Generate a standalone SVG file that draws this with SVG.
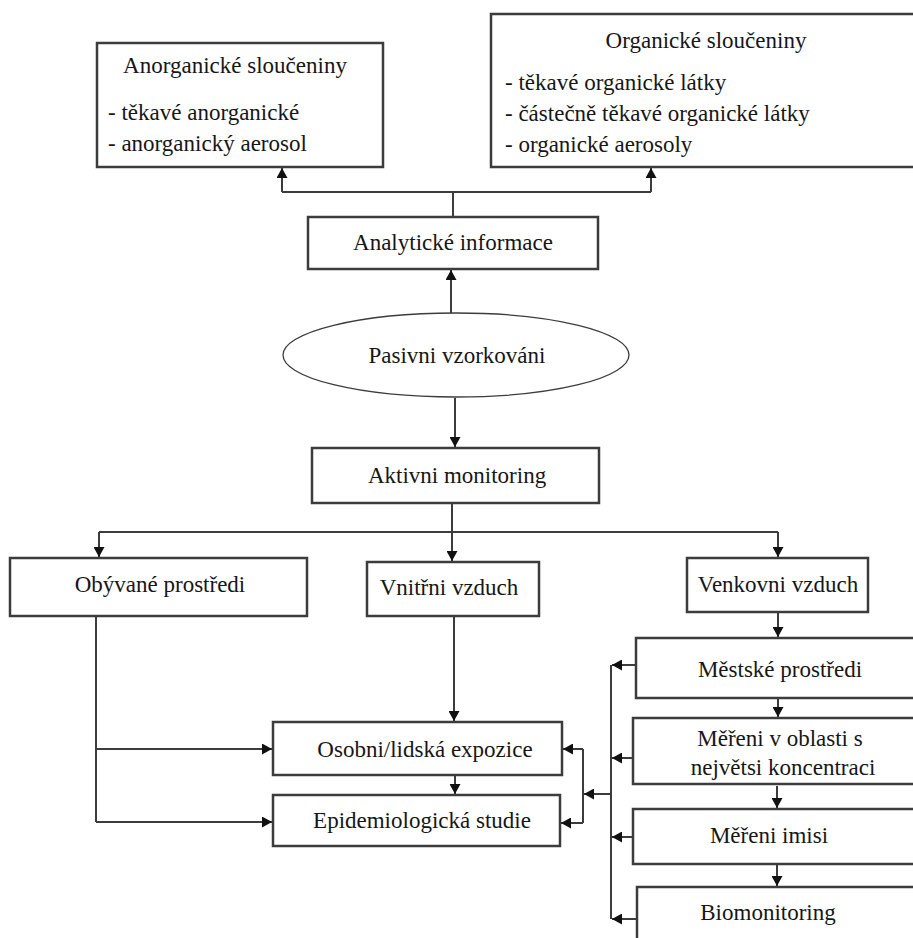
<svg xmlns="http://www.w3.org/2000/svg" width="913" height="938" viewBox="0 0 913 938" font-family="Liberation Serif, Times New Roman, DejaVu Serif, serif" font-size="23">
<defs>
<marker id="ah" markerUnits="userSpaceOnUse" markerWidth="11" markerHeight="11" refX="10" refY="5.5" orient="auto">
<path d="M0,0 L10,5.5 L0,11 z" fill="#111"/>
</marker>
<style>
.box{fill:#fff;stroke:#3c3c3c;stroke-width:2.5}
.ell{fill:#fff;stroke:#3c3c3c;stroke-width:1.3}
.c{text-anchor:middle}
.ln{fill:none;stroke:#3c3c3c;stroke-width:2}
.ar{fill:none;stroke:#3c3c3c;stroke-width:2;marker-end:url(#ah)}
</style>
</defs>
<rect width="913" height="938" fill="#fff"/>
<g fill="#161616" font-family="Liberation Serif, Times New Roman, DejaVu Serif, serif">
<g id="n-anorg">
<rect class="box" x="97" y="43" width="286" height="124"/>
<text class="c" x="235" y="73" fill="#161616">Anorganické sloučeniny</text>
<text x="108" y="120" fill="#161616">- těkavé anorganické</text>
<text x="108" y="151" fill="#161616">- anorganický aerosol</text>
</g>
<g id="n-org">
<rect class="box" x="491" y="14" width="440" height="153"/>
<text class="c" x="706" y="48" fill="#161616">Organické sloučeniny</text>
<text x="505" y="90" fill="#161616">- těkavé organické látky</text>
<text x="505" y="121" fill="#161616">- částečně těkavé organické látky</text>
<text x="505" y="152" fill="#161616">- organické aerosoly</text>
</g>
<g id="n-analyt">
<rect class="box" x="308" y="217" width="290" height="52"/>
<text class="c" x="453" y="250" fill="#161616">Analytické informace</text>
</g>
<g id="n-pasiv">
<ellipse class="ell" cx="456" cy="355" rx="173" ry="42"/>
<text class="c" x="457" y="363" fill="#161616">Pasivni vzorkováni</text>
</g>
<g id="n-aktiv">
<rect class="box" x="312" y="448" width="287" height="55"/>
<text class="c" x="457" y="483" fill="#161616">Aktivni monitoring</text>
</g>
<g id="n-obyv">
<rect class="box" x="10" y="558" width="297" height="58"/>
<text class="c" x="160" y="592" fill="#161616">Obývané prostředi</text>
</g>
<g id="n-vnitr">
<rect class="box" x="367" y="562" width="172" height="54"/>
<text class="c" x="449" y="595" fill="#161616">Vnitřni vzduch</text>
</g>
<g id="n-venk">
<rect class="box" x="687" y="558" width="181" height="54"/>
<text class="c" x="778" y="592" fill="#161616">Venkovni vzduch</text>
</g>
<g id="n-mest">
<rect class="box" x="636" y="638" width="300" height="60"/>
<text class="c" x="780" y="677" fill="#161616">Městské prostředi</text>
</g>
<g id="n-mereni">
<rect class="box" x="633" y="718" width="300" height="66"/>
<text class="c" x="780" y="746" fill="#161616">Měřeni v oblasti s</text>
<text class="c" x="783" y="775" fill="#161616">největsi koncentraci</text>
</g>
<g id="n-imisi">
<rect class="box" x="633" y="809" width="300" height="55"/>
<text class="c" x="769" y="843" fill="#161616">Měřeni imisi</text>
</g>
<g id="n-bio">
<rect class="box" x="637" y="887" width="300" height="70"/>
<text class="c" x="768" y="920" fill="#161616">Biomonitoring</text>
</g>
<g id="n-osob">
<rect class="box" x="273" y="722" width="289" height="53"/>
<text class="c" x="425" y="757" fill="#161616">Osobni/lidská expozice</text>
</g>
<g id="n-epid">
<rect class="box" x="273" y="795" width="287" height="51"/>
<text class="c" x="422" y="828" fill="#161616">Epidemiologická studie</text>
</g>
</g>
<g id="connectors">
<path class="ln" d="M453,217 V192 M282,192 H651"/>
<path class="ar" d="M282,192 V168"/>
<path class="ar" d="M651,192 V168"/>
<path class="ar" d="M451,313 V270"/>
<path class="ar" d="M455,398 V447"/>
<path class="ln" d="M452,503 V532 M99,532 H778"/>
<path class="ar" d="M99,532 V557"/>
<path class="ar" d="M452,532 V561"/>
<path class="ar" d="M778,532 V557"/>
<path class="ln" d="M96,616 V822"/>
<path class="ar" d="M96,749 H272"/>
<path class="ar" d="M96,822 H272"/>
<path class="ar" d="M454,616 V721"/>
<path class="ar" d="M455,775 V794"/>
<path class="ar" d="M778,612 V637"/>
<path class="ar" d="M778,698 V717"/>
<path class="ar" d="M777,786 V808"/>
<path class="ar" d="M777,865 V886"/>
<path class="ln" d="M611,665 V919"/>
<path class="ar" d="M636,665 H612"/>
<path class="ar" d="M633,758 H612"/>
<path class="ar" d="M633,837 H612"/>
<path class="ar" d="M637,919 H612"/>
<path class="ar" d="M611,794 H584"/>
<path class="ln" d="M583,749 V823"/>
<path class="ar" d="M583,749 H563"/>
<path class="ar" d="M583,823 H561"/>
</g>
</svg>
